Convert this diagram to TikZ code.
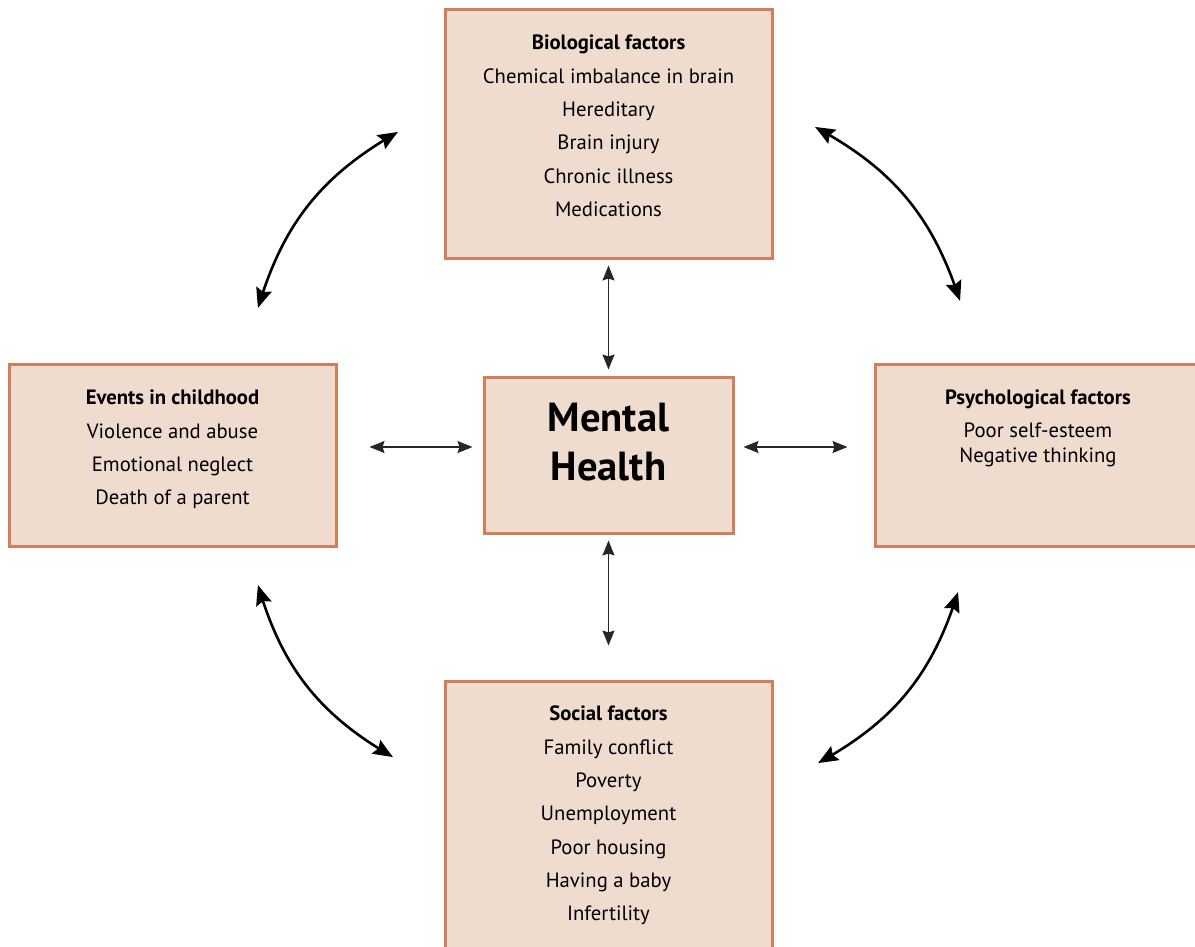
\documentclass[tikz,border=0pt]{standalone}
\usepackage{fontspec}
\setmainfont{PT Sans}
\usetikzlibrary{arrows.meta,bending}
\definecolor{boxfill}{RGB}{240,220,207}
\definecolor{boxline}{RGB}{210,126,90}
\begin{document}
\begin{tikzpicture}[x=1pt,y=-1pt,
  box/.style={draw=boxline, fill=boxfill, line width=3pt, inner sep=0pt},
  txt/.style={font=\fontsize{20.7}{33.3}\selectfont, align=center, anchor=north, inner sep=0pt},
  thinarrow/.style={{Stealth[length=15pt,width=12pt,inset=2pt]}-{Stealth[length=15pt,width=12pt,inset=2pt]}, line width=1.3pt, draw=black!85},
  bigarrow/.style={{Stealth[length=20pt,width=16pt,inset=3pt,bend]}-{Stealth[length=20pt,width=16pt,inset=3pt,bend]}, line width=2.6pt}]
\useasboundingbox (0,0) rectangle (1195,946);
\fill[white] (0,0) rectangle (1195,946);

% boxes
\node[box, minimum width=327pt, minimum height=249pt] (bio) at (608.5,133.5) {};
\node[box, minimum width=327pt, minimum height=182pt] (events) at (172.5,455) {};
\node[box, minimum width=249pt, minimum height=156pt] (mental) at (608.5,455) {};
\node[box, minimum width=330pt, minimum height=182pt] (psych) at (1040,455) {};
\node[box, minimum width=327pt, minimum height=274pt] (social) at (608.5,818) {};

% texts
\node[txt] (biotxt) at (608.5,35) {\textbf{Biological factors}\\Chemical imbalance in brain\\Hereditary\\Brain injury\\Chronic illness\\Medications};
\node[txt] (eventstxt) at (172.5,390) {\textbf{Events in childhood}\\Violence and abuse\\Emotional neglect\\Death of a parent};
\node[txt, font=\fontsize{20.7}{25}\selectfont] (psychtxt) at (1038,390) {\textbf{Psychological factors}\\[8pt]Poor self-esteem\\Negative thinking};
\node[txt] (socialtxt) at (608.5,706) {\textbf{Social factors}\\Family conflict\\Poverty\\Unemployment\\Poor housing\\Having a baby\\Infertility};
\node[align=center, font=\fontsize{40.6}{49}\selectfont\bfseries, inner sep=0pt] (mentaltxt) at (608.5,442) {Mental\\Health};

% straight arrows
\draw[thinarrow] ([yshift=-6pt]bio.south) -- ([yshift=6pt]mental.north);
\draw[thinarrow] ([yshift=-6pt]mental.south) -- ([yshift=-111pt]mental.south);
\draw[thinarrow] ([xshift=32pt,yshift=8pt]events.east) -- ([xshift=-10pt,yshift=8pt]mental.west);
\draw[thinarrow] ([xshift=9pt,yshift=8pt]mental.east) -- ([xshift=-26pt,yshift=8pt]psych.west);

% curved arrows
\coordinate (tl1) at (258,308);
\coordinate (tl2) at (398,132);
\coordinate (tr1) at (815,127);
\coordinate (tr2) at (960,301);
\coordinate (bl1) at (258,585);
\coordinate (bl2) at (393,757);
\coordinate (br1) at (958,592);
\coordinate (br2) at (818,763);
\draw[bigarrow] (tl1) to[bend left=22] (tl2);
\draw[bigarrow] (tr1) to[bend left=22] (tr2);
\draw[bigarrow] (bl1) to[bend right=22] (bl2);
\draw[bigarrow] (br1) to[bend left=22] (br2);
\end{tikzpicture}
\end{document}
